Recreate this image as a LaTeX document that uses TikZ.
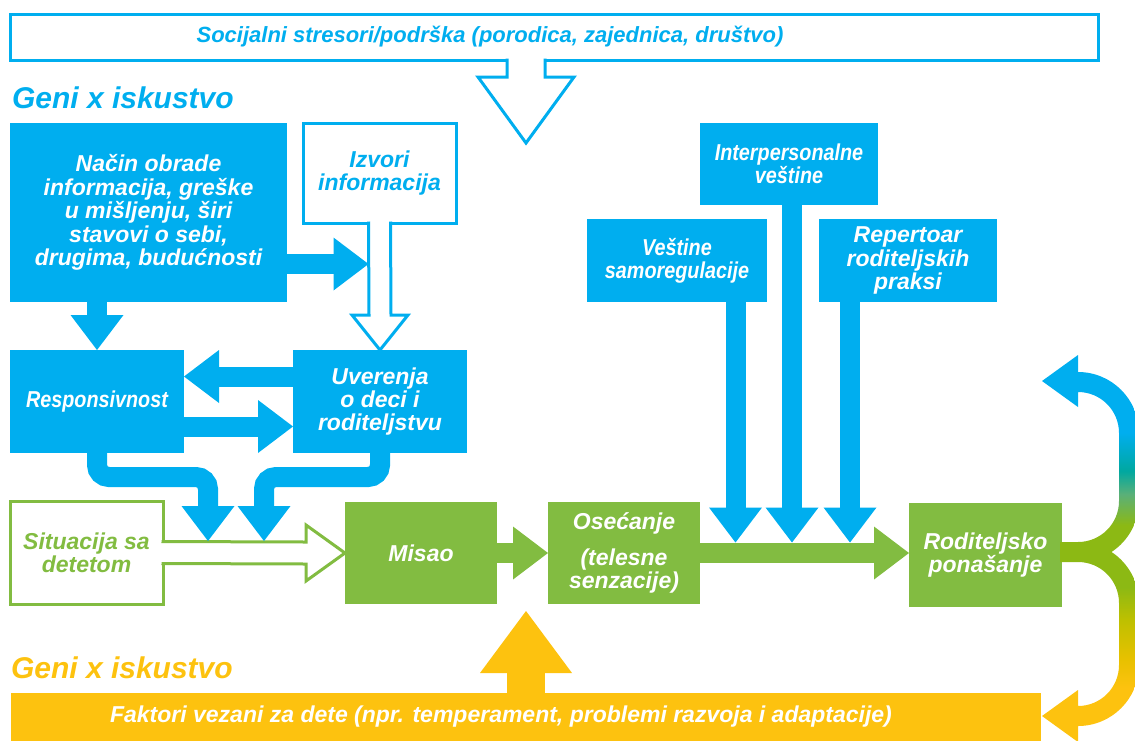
\documentclass[tikz,border=0pt]{standalone}
\usepackage{fontspec}
\setmainfont{Liberation Sans}
\newfontfamily\condfont{Liberation Sans}[FakeStretch=0.86]
\usepackage{tikz}
\usetikzlibrary{positioning, calc, arrows.meta, shapes}

\definecolor{cblue}{RGB}{0,174,239}
\definecolor{cgreen}{RGB}{130,188,65}
\definecolor{cyellow}{RGB}{253,194,15}
\definecolor{cteal}{RGB}{0,168,160}
\definecolor{cmix}{RGB}{90,176,120}
\definecolor{cleaf}{RGB}{140,185,20}
\definecolor{colive}{RGB}{190,192,0}
\definecolor{cgold}{RGB}{232,193,0}

\pgfdeclareverticalshading{loopshade}{100bp}{color(0bp)=(cyellow); color(32bp)=(cyellow); color(35.6bp)=(cgold); color(40.8bp)=(colive); color(45bp)=(cleaf); color(53bp)=(cleaf); color(57bp)=(cmix); color(60bp)=(cteal); color(65bp)=(cblue); color(100bp)=(cblue)}

\newcommand\boxfont{\fontsize{11.5}{11.7}\selectfont\bfseries\itshape}
\newcommand\bannerfont{\fontsize{11}{12}\selectfont\bfseries\itshape}
\newcommand\genifont{\fontsize{15}{15}\selectfont\bfseries\itshape}

\tikzset{
  box/.style={inner sep=0pt, outer sep=0pt, align=center, font=\boxfont},
  bluebox/.style={box, fill=cblue, text=white},
  greenbox/.style={box, fill=cgreen, text=white},
  outbox/.style={box, draw=cblue, line width=1.5pt, fill=white, text=cblue},
  outgreen/.style={box, draw=cgreen, line width=1.5pt, fill=white, text=cgreen},
  barrow/.style={draw=cblue, line width=10pt, -{Triangle[length=17.5pt, width=26.5pt, line width=0pt]}},
  garrow/.style={barrow, draw=cgreen},
  yarrow/.style={draw=cyellow, line width=19pt, -{Triangle[length=31pt, width=46pt, line width=0pt]}},
  hollow/.style={draw=cblue, line width=1.5pt, fill=white, line join=miter},
  hollowg/.style={hollow, draw=cgreen}
}

\begin{document}
\begin{tikzpicture}[x=0.5pt, y=-0.5pt]
		\useasboundingbox (0,0) rectangle (1135,740);
		
		%//top banner
		\node[outbox, minimum width=544pt, minimum height=23pt] (social) at (554,37) {};
		\node[box, text=cblue, font=\bannerfont] (socialtxt) at (490,37) {Socijalni stresori/podrška (porodica, zajednica, društvo)};
		
		\node[box, anchor=west, text=cblue, font=\genifont] (geni1) at (12,98) {Geni x iskustvo};
		
		%//boxes on the left
		\node[bluebox, minimum width=138.5pt, minimum height=89.5pt] (nacin) at (148.5,212.5) {Način obrade\\informacija, greške\\u mišljenju, širi\\stavovi o sebi,\\drugima, budućnosti};
		\node[outbox, minimum width=76.5pt, minimum height=50pt] (izvori) at (379.5,173) {Izvori\\informacija};
		\node[bluebox, minimum width=87pt, minimum height=51.5pt, font=\boxfont\condfont] (resp) at (97,401.5) {Responsivnost};
		\node[bluebox, minimum width=87pt, minimum height=51.5pt] (uverenja) at (380,401.5) {Uverenja\\o deci i\\roditeljstvu};
		
		%//main row
		\node[outgreen, minimum width=76.5pt, minimum height=51.5pt] (situacija) at (86.5,552.5) {Situacija sa\\detetom};
		\node[greenbox, minimum width=76pt, minimum height=51pt] (misao) at (421,553) {Misao};
		\node[greenbox, minimum width=76pt, minimum height=51pt] (osecanje) at (624,553) {Osećanje\\[6pt](telesne\\senzacije)};
		\node[greenbox, minimum width=76.5pt, minimum height=52pt] (roditeljsko) at (985.5,555) {Roditeljsko\\ponašanje};
		
		%//skills
		\node[bluebox, minimum width=89pt, minimum height=41pt, font=\boxfont\condfont] (inter) at (789,164) {Interpersonalne\\veštine};
		\node[bluebox, minimum width=90pt, minimum height=41.5pt, font=\boxfont\condfont] (vestine) at (677,260.5) {Veštine\\samoregulacije};
		\node[bluebox, minimum width=89pt, minimum height=41.5pt] (repertoar) at (908,260.5) {Repertoar\\roditeljskih\\praksi};
		
		%//bottom
		\node[box, anchor=west, text=cyellow, font=\genifont] (geni2) at (11,668) {Geni x iskustvo};
		\node[box, fill=cyellow, minimum width=515pt, minimum height=26pt] (faktori) at (526,719) {};
		\node[box, text=white] (faktoritxt) at (501,717) {Faktori vezani za dete (npr. temperament, problemi razvoja i adaptacije)};
		
		%//hollow arrows
		\coordinate (st) at (526,143);
		\draw[hollow] ($(st |- social.south)+(-19,-1.5)$) -- ($(st)+(-19,-66)$) -- ($(st)+(-48,-66)$) -- (st)
			-- ($(st)+(48,-66)$) -- ($(st)+(19,-66)$) -- ($(st |- social.south)+(19,-1.5)$);
		\draw[hollow] ($(izvori.south)+(-11,-1.5)$) -- ($(uverenja.north)+(-11,-35)$) -- ($(uverenja.north)+(-28,-35)$) -- (uverenja.north)
			-- ($(uverenja.north)+(28,-35)$) -- ($(uverenja.north)+(11,-35)$) -- ($(izvori.south)+(11,-1.5)$);
		\draw[hollowg] ($(situacija.east)+(-1.5,-11)$) -- ($(misao.west)+(-39,-11)$) -- ($(misao.west)+(-39,-28)$) -- (misao.west)
			-- ($(misao.west)+(-39,28)$) -- ($(misao.west)+(-39,11)$) -- ($(situacija.east)+(-1.5,11)$);
		
		%//filled arrows
		\coordinate (ia) at ($(izvori.south)+(-11,41)$);
		\draw[barrow] (nacin.east |- ia) -- (ia);
		\draw[barrow] (resp.north |- nacin.south) -- (resp.north);
		\draw[barrow] ([yshift=12.5pt]uverenja.west) -- ([yshift=12.5pt]resp.east);
		\draw[barrow] ([yshift=-12.5pt]resp.east) -- ([yshift=-12.5pt]uverenja.west);
		
		\coordinate (s1) at ($(situacija.east)+(45,-11.5)$);
		\coordinate (s2) at ($(situacija.east)+(101,-11.5)$);
		\draw[barrow, rounded corners=6pt] (resp.south) -- ++(0,24) -| (s1);
		\draw[barrow, rounded corners=6pt] (uverenja.south) -- ++(0,24) -| (s2);
		
		\draw[garrow] (misao.east) -- (osecanje.west);
		\draw[garrow] (osecanje.east) -- (osecanje.east -| roditeljsko.west);
		
		\coordinate (g1) at ($(osecanje.east)+(35.5,-10.5)$);
		\coordinate (g2) at ($(osecanje.east)+(92,-10.5)$);
		\coordinate (g3) at ($(osecanje.east)+(150,-10.5)$);
		\draw[barrow] (vestine.south -| g1) -- (g1);
		\draw[barrow] (inter.south -| g2) -- (g2);
		\draw[barrow] (repertoar.south -| g3) -- (g3);
		
		\coordinate (yt) at ($(faktori.north)+(0,-82)$);
		\draw[yarrow] (faktori.north) -- (yt);
		
		%//feedback loop
		\shade[shading=loopshade] (1060,542) -- (1078,542) arc[start angle=90, end angle=0, radius=41] -- (1119,433)
			arc[start angle=0, end angle=-90, radius=41] -- (1078,407) -- (1042,381) -- (1078,355) -- (1078,372)
			arc[start angle=-90, end angle=0, radius=61] -- (1139,501) arc[start angle=0, end angle=56.7, radius=61]
			arc[start angle=-56.7, end angle=0, radius=61] -- (1139,665) arc[start angle=0, end angle=90, radius=61]
			-- (1078,742) -- (1042,716) -- (1078,690) -- (1078,706) arc[start angle=90, end angle=0, radius=41]
			-- (1119,603) arc[start angle=0, end angle=-90, radius=41] -- (1060,562) -- cycle;
		
\end{tikzpicture}
\end{document}
